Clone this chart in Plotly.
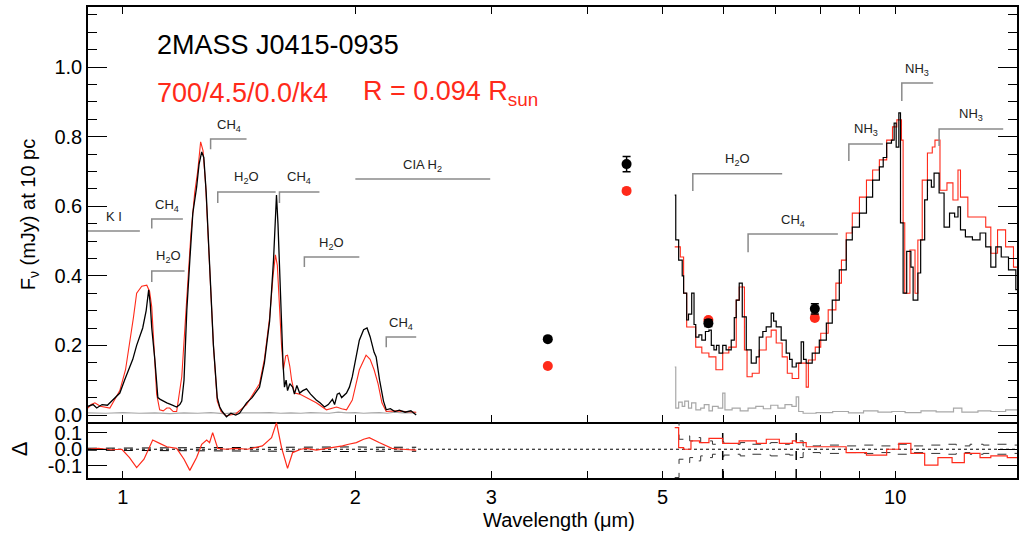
import numpy as np
import plotly.graph_objects as go
from plotly.subplots import make_subplots

# ---------------- data ----------------
# near-IR observed spectrum
nir_wl = [0.901, 0.915, 0.925, 0.94, 0.955, 0.962, 0.975, 0.991, 1.005, 1.021, 1.03, 1.042, 1.061, 1.072,
          1.080, 1.085, 1.090, 1.100, 1.106, 1.110, 1.118, 1.128, 1.140, 1.155, 1.174, 1.185, 1.192, 1.200,
          1.210, 1.221, 1.232, 1.246, 1.255, 1.265, 1.273, 1.282, 1.295, 1.31, 1.325, 1.335, 1.345, 1.362,
          1.38, 1.40, 1.416, 1.43, 1.446, 1.47, 1.503, 1.525, 1.549, 1.567, 1.575, 1.581, 1.588, 1.597,
          1.605, 1.612, 1.619, 1.627, 1.634, 1.645, 1.659, 1.668, 1.68, 1.694, 1.71, 1.729, 1.75, 1.78,
          1.80, 1.824, 1.845, 1.868, 1.88, 1.895, 1.907, 1.92, 1.948, 1.965, 1.982, 2.00, 2.024, 2.05,
          2.071, 2.09, 2.115, 2.128, 2.15, 2.175, 2.193, 2.22, 2.25, 2.28, 2.32, 2.36, 2.398]
nir_obs = [0.025, 0.03, 0.02, 0.03, 0.028, 0.035, 0.045, 0.063, 0.10, 0.14, 0.16, 0.20, 0.25, 0.30,
           0.36, 0.32, 0.25, 0.16, 0.09, 0.05, 0.045, 0.04, 0.035, 0.03, 0.023, 0.03, 0.04, 0.10,
           0.30, 0.445, 0.58, 0.655, 0.72, 0.756, 0.74, 0.64, 0.445, 0.20, 0.05, 0.023, 0.01, -0.005,
           0.005, 0.0, 0.005, 0.02, 0.035, 0.05, 0.08, 0.15, 0.27, 0.445, 0.57, 0.632, 0.55, 0.38,
           0.25, 0.15, 0.08, 0.10, 0.07, 0.09, 0.08, 0.06, 0.085, 0.063, 0.07, 0.075, 0.06, 0.043,
           0.035, 0.023, 0.03, 0.045, 0.03, 0.06, 0.063, 0.05, 0.063, 0.08, 0.11, 0.16, 0.215, 0.245,
           0.25, 0.225, 0.18, 0.167, 0.10, 0.04, 0.015, 0.018, 0.01, 0.014, 0.008, 0.012, 0.0]

# near-IR model spectrum
nir_mod_wl = [0.901, 0.91, 0.920, 0.935, 0.962, 0.991, 1.008, 1.021, 1.032, 1.042, 1.058, 1.074, 1.083,
              1.090, 1.098, 1.106, 1.116, 1.128, 1.140, 1.150, 1.162, 1.174, 1.192, 1.210, 1.225, 1.239,
              1.250, 1.261, 1.270, 1.28, 1.295, 1.31, 1.325, 1.34, 1.36, 1.40, 1.446, 1.503, 1.525,
              1.549, 1.565, 1.576, 1.585, 1.595, 1.605, 1.614, 1.625, 1.634, 1.645, 1.654, 1.668, 1.694,
              1.729, 1.78, 1.835, 1.868, 1.891, 1.92, 1.948, 1.982, 2.024, 2.065, 2.09, 2.115, 2.14,
              2.165, 2.193, 2.25, 2.32, 2.398]
nir_mod = [0.02, 0.03, 0.035, 0.025, 0.02, 0.07, 0.13, 0.207, 0.28, 0.35, 0.37, 0.373, 0.355,
           0.31, 0.20, 0.06, 0.015, 0.012, 0.02, 0.02, 0.01, 0.01, 0.11, 0.35, 0.52, 0.64,
           0.70, 0.785, 0.76, 0.66, 0.44, 0.20, 0.04, 0.01, -0.002, 0.003, 0.03, 0.09, 0.16,
           0.28, 0.40, 0.46, 0.43, 0.30, 0.20, 0.13, 0.17, 0.172, 0.14, 0.10, 0.063, 0.06,
           0.05, 0.035, 0.015, 0.02, 0.023, 0.018, 0.015, 0.043, 0.13, 0.172, 0.16, 0.13, 0.09,
           0.035, 0.01, 0.012, 0.01, 0.008]

# near-IR noise
nir_noise_wl = [0.901, 0.95, 1.0, 1.05, 1.1, 1.15, 1.2, 1.25, 1.3, 1.35, 1.4, 1.45, 1.5, 1.55, 1.6,
                1.65, 1.7, 1.75, 1.8, 1.85, 1.9, 1.95, 2.0, 2.05, 2.1, 2.15, 2.2, 2.25, 2.3, 2.35, 2.398]
nir_noise = [0.006, 0.005, 0.007, 0.005, 0.006, 0.004, 0.006, 0.005, 0.007, 0.004, 0.006, 0.005, 0.006,
             0.007, 0.005, 0.006, 0.005, 0.007, 0.006, 0.005, 0.008, 0.006, 0.007, 0.005, 0.006, 0.007,
             0.005, 0.008, 0.006, 0.007, 0.006]

# IRAC photometry
irac_wl = [3.55, 4.49, 5.73, 7.87]
irac_obs = [0.218, 0.721, 0.264, 0.305]
irac_err = [0.005, 0.022, 0.010, 0.015]
irac_mod = [0.141, 0.644, 0.273, 0.279]

# IRS observed spectrum
irs_wl = [5.183, 5.199, 5.244, 5.30, 5.322, 5.371, 5.40, 5.452, 5.49, 5.518, 5.57, 5.619, 5.68, 5.739,
          5.78, 5.826, 5.87, 5.915, 5.98, 6.041, 6.134, 6.19, 6.226, 6.282, 6.339, 6.415, 6.511, 6.609,
          6.668, 6.74, 6.808, 6.910, 6.96, 7.014, 7.119, 7.226, 7.30, 7.356, 7.445, 7.556, 7.61, 7.670,
          7.809, 7.976, 8.145, 8.29, 8.466, 8.643, 8.8, 8.99, 9.18, 9.35, 9.54, 9.65, 9.75, 9.89, 9.97,
          10.03, 10.11, 10.16, 10.24, 10.35, 10.48, 10.55, 10.61, 10.70, 10.79, 10.92, 11.01, 11.14,
          11.23, 11.40, 11.57, 11.76, 11.94, 12.06, 12.15, 12.33, 12.59, 12.88, 13.1, 13.3, 13.5, 13.72,
          14.02, 14.33, 14.45]
irs_obs = [0.632, 0.503, 0.445, 0.40, 0.35, 0.273, 0.29, 0.35, 0.26, 0.224, 0.23, 0.215, 0.24, 0.244,
           0.20, 0.187, 0.20, 0.178, 0.20, 0.187, 0.215, 0.28, 0.33, 0.379, 0.282, 0.187, 0.149, 0.167,
           0.224, 0.24, 0.253, 0.293, 0.27, 0.253, 0.215, 0.178, 0.16, 0.138, 0.149, 0.21, 0.16, 0.149,
           0.178, 0.215, 0.264, 0.33, 0.417, 0.503, 0.54, 0.58, 0.626, 0.675, 0.713, 0.74, 0.781, 0.79, 0.839,
           0.77, 0.868, 0.552, 0.35, 0.47, 0.425, 0.33, 0.33, 0.408, 0.503, 0.618, 0.675, 0.655,
           0.695, 0.638, 0.54, 0.58, 0.569, 0.598, 0.532, 0.512, 0.503, 0.523, 0.483, 0.425, 0.483, 0.454,
           0.417, 0.36, 0.33]

# IRS model spectrum
irs_mod_wl = [5.183, 5.27, 5.322, 5.371, 5.518, 5.619, 5.739, 5.86, 5.98, 6.09, 6.226, 6.282, 6.38, 6.43,
              6.53, 6.668, 6.808, 6.910, 7.014, 7.14, 7.25, 7.356, 7.50, 7.67, 7.72, 7.88, 8.01, 8.19,
              8.38, 8.52, 8.643, 8.8, 8.99, 9.18, 9.35, 9.54, 9.75, 9.92, 10.05, 10.19, 10.24, 10.29,
              10.45, 10.61, 10.70, 10.84, 11.01, 11.17, 11.26, 11.43, 11.67, 11.88, 12.06, 12.15, 12.42,
              12.75, 13.1, 13.3, 13.57, 13.9, 14.23, 14.45]
irs_mod = [0.483, 0.454, 0.35, 0.253, 0.195, 0.178, 0.167, 0.13, 0.178, 0.195, 0.33, 0.368, 0.187, 0.11,
           0.12, 0.187, 0.224, 0.244, 0.207, 0.167, 0.12, 0.105, 0.149, 0.08, 0.158, 0.195, 0.235, 0.302,
           0.379, 0.445, 0.523, 0.58, 0.626, 0.675, 0.704, 0.733, 0.79, 0.828, 0.848, 0.79, 0.552, 0.35,
           0.474, 0.35, 0.503, 0.675, 0.753, 0.77, 0.79, 0.646, 0.667, 0.618, 0.704, 0.626, 0.569,
           0.569, 0.54, 0.465, 0.532, 0.483, 0.425, 0.388]

# IRS noise
irs_noise_wl = [5.183, 5.199, 5.244, 5.30, 5.34, 5.40, 5.45, 5.52, 5.6, 5.66, 5.74, 5.8, 5.9, 5.98, 6.02,
                6.15, 6.3, 6.45, 6.6, 6.75, 6.9, 7.05, 7.2, 7.35, 7.445, 7.50, 7.6, 7.9, 8.3, 8.7, 9.1,
                9.5, 9.9, 10.3, 10.8, 11.3, 11.9, 12.2, 12.8, 13.3, 13.9, 14.45]
irs_noise = [0.138, 0.02, 0.037, 0.025, 0.04, 0.02, 0.035, 0.015, 0.02, 0.03, 0.012, 0.025, 0.02, 0.063,
             0.015, 0.02, 0.012, 0.02, 0.025, 0.018, 0.028, 0.02, 0.03, 0.025, 0.052, 0.01, 0.005, 0.007,
             0.01, 0.006, 0.012, 0.008, 0.01, 0.007, 0.012, 0.009, 0.02, 0.008, 0.012, 0.01, 0.015, 0.01]

# residuals (observed - model)
nir_res_wl = [0.901, 0.93, 0.965, 0.997, 1.02, 1.042, 1.065, 1.093, 1.116, 1.14, 1.174, 1.2, 1.221,
              1.246, 1.265, 1.284, 1.295, 1.307, 1.327, 1.36, 1.40, 1.45, 1.516, 1.558, 1.581, 1.605,
              1.634, 1.659, 1.70, 1.729, 1.78, 1.835, 1.88, 1.925, 1.96, 2.006, 2.05, 2.085, 2.147,
              2.19, 2.23, 2.30, 2.398]
nir_res = [0.0, 0.005, -0.003, 0.0, -0.05, -0.11, -0.06, 0.055, 0.035, 0.015, 0.005, -0.06, -0.127,
           -0.05, 0.03, 0.055, 0.04, 0.10, 0.005, 0.0, 0.005, 0.0, 0.02, 0.07, 0.16, 0.01,
           -0.115, -0.02, 0.0, 0.005, -0.005, 0.005, 0.01, 0.02, 0.03, 0.04, 0.06, 0.07, 0.04,
           0.02, 0.005, 0.0, -0.005]

irs_res_wl = [5.183, 5.244, 5.322, 5.44, 5.58, 5.74, 5.98, 6.28, 6.61, 6.81, 7.08, 7.36, 7.445, 7.67,
              8.05, 8.64, 9.18, 9.75, 10.11, 10.48, 10.92, 11.36, 11.85, 12.29, 12.88, 13.3, 13.97, 14.45]
irs_res = [0.13, 0.01, 0.0, 0.05, 0.04, 0.065, 0.035, 0.05, 0.035, 0.06, 0.035, 0.05, 0.04, 0.015,
           0.015, -0.02, -0.035, 0.0, 0.035, -0.025, -0.095, -0.05, -0.08, -0.025, -0.05, -0.04, -0.05, -0.055]

# uncertainty envelope in residual panel
nir_sig_wl = [0.901, 1.0, 1.1, 1.2, 1.3, 1.4, 1.5, 1.6, 1.7, 1.8, 1.9, 2.0, 2.1, 2.2, 2.3, 2.398]
nir_sig = [0.006, 0.007, 0.008, 0.008, 0.01, 0.009, 0.01, 0.012, 0.012, 0.014, 0.016, 0.014, 0.012, 0.012, 0.013, 0.012]
irs_sig_wl = [5.183, 5.25, 5.33, 5.42, 5.5, 5.6, 5.7, 5.8, 5.9, 6.0, 6.15, 6.3, 6.5, 6.7, 6.9, 7.1, 7.3,
              7.445, 7.6, 8.0, 8.5, 9.0, 9.5, 10.0, 10.5, 11.0, 11.5, 12.0, 12.5, 13.0, 13.5, 14.0, 14.45]
irs_sig = [0.17, 0.06, 0.08, 0.05, 0.07, 0.04, 0.05, 0.03, 0.045, 0.035, 0.03, 0.04, 0.03, 0.035, 0.04,
           0.03, 0.035, 0.05, 0.02, 0.025, 0.02, 0.025, 0.02, 0.03, 0.02, 0.025, 0.03, 0.02, 0.03, 0.025,
           0.03, 0.025, 0.03]
module_edges = [5.98, 7.445]

# molecular feature brackets: label, start, end, level, tick drop
features = [
    ("K I", 0.901, 1.052, 0.529, 0.0),
    ("CH<sub>4</sub>", 1.090, 1.196, 0.563, 0.027),
    ("H<sub>2</sub>O", 1.090, 1.202, 0.414, 0.032),
    ("CH<sub>4</sub>", 1.299, 1.446, 0.793, 0.029),
    ("H<sub>2</sub>O", 1.327, 1.577, 0.641, 0.032),
    ("CH<sub>4</sub>", 1.595, 1.797, 0.641, 0.032),
    ("H<sub>2</sub>O", 1.718, 2.024, 0.454, 0.029),
    ("CIA H<sub>2</sub>", 2.00, 2.99, 0.678, 0.0),
    ("CH<sub>4</sub>", 2.193, 2.398, 0.224, 0.029),
    ("H<sub>2</sub>O", 5.47, 7.14, 0.693, 0.049),
    ("CH<sub>4</sub>", 6.45, 8.43, 0.520, 0.052),
    ("NH<sub>3</sub>", 8.71, 9.64, 0.779, 0.049),
    ("NH<sub>3</sub>", 10.2, 11.2, 0.954, 0.052),
    ("NH<sub>3</sub>", 11.4, 13.8, 0.822, 0.049),
]

x_range = [0.9013, 14.38]
y_range = [-0.0201, 1.1724]
res_range = [-0.1727, 0.1636]
y_ticks = [0.0, 0.2, 0.4, 0.6, 0.8, 1.0]
res_ticks = [-0.1, 0.0, 0.1]
x_ticks = [1, 2, 3, 4, 5, 6, 7, 8, 9, 10]
x_ticklabels = ["1", "2", "3", "", "5", "", "", "", "", "10"]

RED = "#ff2a1a"
GRAY = "#a8a8a8"
FONT = "Liberation Sans, Arial, Helvetica, sans-serif"

fig = make_subplots(rows=2, cols=1, shared_xaxes=True, vertical_spacing=0,
                    row_heights=[415 / 471, 56 / 471])

# main panel
fig.add_trace(go.Scatter(x=nir_noise_wl, y=nir_noise, mode="lines", line=dict(color=GRAY, width=1.2)), 1, 1)
fig.add_trace(go.Scatter(x=irs_noise_wl, y=irs_noise, mode="lines", line=dict(color=GRAY, width=1.2, shape="hv")), 1, 1)
fig.add_trace(go.Scatter(x=nir_mod_wl, y=nir_mod, mode="lines", line=dict(color=RED, width=1.1)), 1, 1)
fig.add_trace(go.Scatter(x=irs_mod_wl, y=irs_mod, mode="lines", line=dict(color=RED, width=1.1, shape="hv")), 1, 1)
fig.add_trace(go.Scatter(x=nir_wl, y=nir_obs, mode="lines", line=dict(color="black", width=1.3)), 1, 1)
fig.add_trace(go.Scatter(x=irs_wl, y=irs_obs, mode="lines", line=dict(color="black", width=1.2, shape="hv")), 1, 1)
fig.add_trace(go.Scatter(x=irac_wl, y=irac_mod, mode="markers",
                         marker=dict(color=RED, size=10, line=dict(width=0))), 1, 1)
fig.add_trace(go.Scatter(x=irac_wl, y=irac_obs, mode="markers",
                         marker=dict(color="black", size=10, line=dict(width=0)),
                         error_y=dict(type="data", array=irac_err, color="black", thickness=1.5, width=4)), 1, 1)

# feature brackets
bx, by = [], []
for lab, w0, w1, lev, drop in features:
    if drop > 0:
        bx += [w0, w0, w1, None]
        by += [lev - drop, lev, lev, None]
    else:
        bx += [w0, w1, None]
        by += [lev, lev, None]
fig.add_trace(go.Scatter(x=bx, y=by, mode="lines", line=dict(color="#8a8a8a", width=1.5)), 1, 1)
for lab, w0, w1, lev, drop in features:
    fig.add_annotation(x=np.log10(np.sqrt(w0 * w1)), y=lev, xref="x", yref="y", text=lab,
                       xanchor="center", yanchor="middle",
                       showarrow=False, yshift=14, font=dict(family=FONT, size=13, color="#222222"))

# residual panel
fig.add_trace(go.Scatter(x=x_range, y=[0, 0], mode="lines", line=dict(color="black", width=1, dash="dot")), 2, 1)
for s in (1, -1):
    fig.add_trace(go.Scatter(x=nir_sig_wl, y=[s * v for v in nir_sig], mode="lines",
                             line=dict(color="black", width=1, dash="dash")), 2, 1)
    fig.add_trace(go.Scatter(x=irs_sig_wl, y=[s * v for v in irs_sig], mode="lines",
                             line=dict(color="#333333", width=1, dash="dash", shape="hv")), 2, 1)
ex, ey = [], []
for w in module_edges:
    ex += [w, w, None]
    ey += [res_range[0], res_range[1], None]
fig.add_trace(go.Scatter(x=ex, y=ey, mode="lines", line=dict(color="black", width=1.5, dash="dash")), 2, 1)
fig.add_trace(go.Scatter(x=nir_res_wl, y=nir_res, mode="lines", line=dict(color=RED, width=1.2)), 2, 1)
fig.add_trace(go.Scatter(x=irs_res_wl, y=irs_res, mode="lines", line=dict(color=RED, width=1.2, shape="hv")), 2, 1)

axis_common = dict(showline=True, linecolor="black", linewidth=1.5, ticks="inside",
                   tickcolor="black", showgrid=False, zeroline=False,
                   tickfont=dict(family=FONT, size=20, color="black"))

fig.update_xaxes(type="log", range=[np.log10(x_range[0]), np.log10(x_range[1])],
                 tickvals=x_ticks, ticktext=x_ticklabels, ticklen=7, tickwidth=1.2, **axis_common)
fig.update_xaxes(showticklabels=False, mirror="allticks", row=1, col=1)
fig.update_xaxes(showticklabels=True, mirror=False, row=2, col=1)

fig.update_yaxes(range=y_range, tickvals=y_ticks, ticktext=[f"{v:.1f}" for v in y_ticks],
                 ticklen=19, tickwidth=1.2, mirror="allticks",
                 minor=dict(dtick=0.05, tick0=0, ticklen=9, tickcolor="black", ticks="inside", tickwidth=1.2),
                 row=1, col=1, **axis_common)
fig.update_yaxes(range=res_range, tickvals=res_ticks, ticktext=["-0.1", "0.0", "0.1"],
                 ticklen=19, tickwidth=1.2, mirror="allticks", row=2, col=1, **axis_common)

# titles / labels
lab = dict(xref="paper", yref="paper", showarrow=False, yanchor="middle")
fig.add_annotation(x=-0.0634, y=0.558, textangle=-90, xanchor="center",
                   text="F<sub>ν</sub> (mJy) at 10 pc", font=dict(family=FONT, size=20, color="black"), **lab)
fig.add_annotation(x=-0.073, y=0.0616, textangle=-90, xanchor="center",
                   text="Δ", font=dict(family=FONT, size=22, color="black"), **lab)
fig.add_annotation(x=0.507, y=-0.089, xanchor="center",
                   text="Wavelength (μm)", font=dict(family=FONT, size=20, color="black"), **lab)
fig.add_annotation(x=0.072, y=0.919, xanchor="left",
                   text="2MASS J0415-0935", font=dict(family=FONT, size=27, color="black"), **lab)
fig.add_annotation(x=0.072, y=0.817, xanchor="left",
                   text="700/4.5/0.0/k4", font=dict(family=FONT, size=27, color=RED), **lab)
fig.add_annotation(x=0.294, y=0.817, xanchor="left",
                   text="R = 0.094 R<sub>sun</sub>", font=dict(family=FONT, size=27, color=RED), **lab)

fig.update_layout(width=1019, height=535, margin=dict(l=88, r=0, t=7, b=57),
                  paper_bgcolor="white", plot_bgcolor="white", showlegend=False,
                  font=dict(family=FONT, color="black"))

fig.write_html("out.html")
